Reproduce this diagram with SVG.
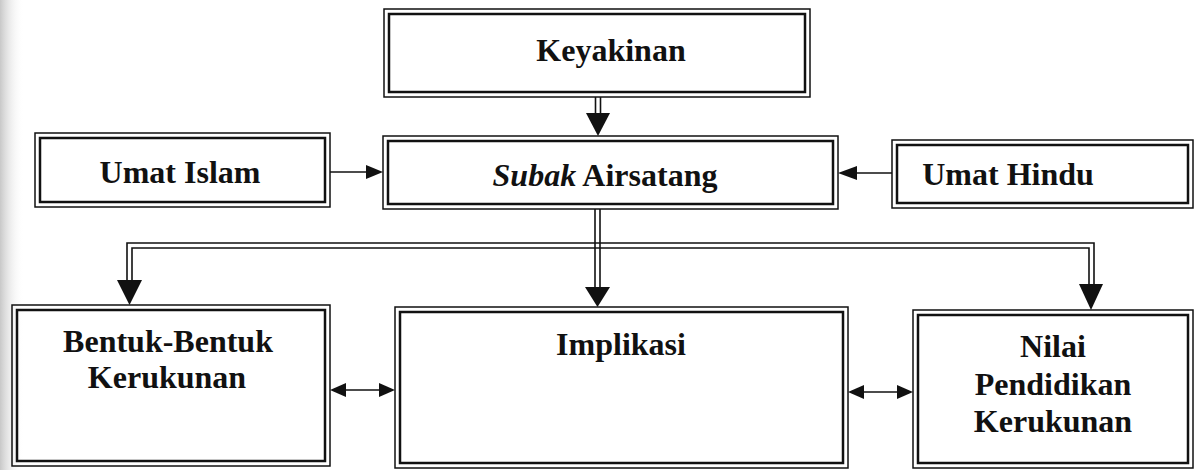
<svg xmlns="http://www.w3.org/2000/svg" width="1202" height="470" viewBox="0 0 1202 470">
<style>
.o{fill:none;stroke:#111;stroke-width:1.5}
.i{fill:none;stroke:#111;stroke-width:2.5}
.t{font-family:"Liberation Serif","Times New Roman",serif;font-weight:bold;font-size:32px;fill:#111;text-anchor:middle}
.l{fill:none;stroke:#111;stroke-width:1.6}
.h{fill:#111;stroke:none}
</style>
<defs>
<linearGradient id="shade" x1="0" y1="0" x2="1" y2="0">
<stop offset="0" stop-color="#c8c8c8"/>
<stop offset="1" stop-color="#ffffff" stop-opacity="0"/>
</linearGradient>
</defs>
<rect width="1202" height="470" fill="#fff"/>
<rect x="0" y="0" width="24" height="470" fill="url(#shade)"/>

<g id="keyakinan">
<rect class="o" x="384" y="9" width="426" height="88"/>
<rect class="i" x="389" y="14" width="416" height="78"/>
<text class="t" x="611" y="61">Keyakinan</text>
</g>

<g id="subak">
<rect class="o" x="383" y="136" width="455" height="73"/>
<rect class="i" x="388" y="141" width="445" height="63"/>
<text class="t" x="605" y="186"><tspan font-style="italic">Subak</tspan> Airsatang</text>
</g>

<g id="umat-islam">
<rect class="o" x="35" y="133" width="295" height="74"/>
<rect class="i" x="40" y="138" width="285" height="64"/>
<text class="t" x="180" y="183">Umat Islam</text>
</g>

<g id="umat-hindu">
<rect class="o" x="892" y="140" width="301" height="68"/>
<rect class="i" x="897" y="145" width="291" height="58"/>
<text class="t" x="1008" y="185">Umat Hindu</text>
</g>

<g id="bentuk">
<rect class="o" x="12" y="305" width="318" height="161"/>
<rect class="i" x="17" y="310" width="308" height="151"/>
<text class="t" x="168" y="352">Bentuk-Bentuk</text>
<text class="t" x="167" y="388">Kerukunan</text>
</g>

<g id="implikasi">
<rect class="o" x="395" y="307" width="453" height="161"/>
<rect class="i" x="400" y="312" width="443" height="151"/>
<text class="t" x="621" y="355">Implikasi</text>
</g>

<g id="nilai">
<rect class="o" x="913" y="310" width="280" height="158"/>
<rect class="i" x="918" y="315" width="270" height="148"/>
<text class="t" x="1053" y="357">Nilai</text>
<text class="t" x="1053" y="395">Pendidikan</text>
<text class="t" x="1053" y="432">Kerukunan</text>
</g>

<g id="connectors">
<!-- Keyakinan to Subak -->
<line class="l" x1="595.5" y1="97" x2="595.5" y2="115"/>
<line class="l" x1="600.5" y1="97" x2="600.5" y2="115"/>
<polygon class="h" points="586,113 610,113 598,136"/>
<!-- Umat Islam to Subak -->
<line class="l" x1="330" y1="172" x2="368" y2="172"/>
<polygon class="h" points="366,165 366,179 383,172"/>
<!-- Umat Hindu to Subak -->
<line class="l" x1="892" y1="173" x2="855" y2="173"/>
<polygon class="h" points="857,166 857,180 838,173"/>
<!-- Subak branching -->
<line class="l" x1="595" y1="209" x2="595" y2="289"/>
<line class="l" x1="600" y1="209" x2="600" y2="289"/>
<path class="l" d="M127 282 V243 H1094 V286"/>
<path class="l" d="M132 282 V248 H1089 V286"/>
<polygon class="h" points="117,280 142,280 129.5,305"/>
<polygon class="h" points="585,287 610,287 597.5,307"/>
<polygon class="h" points="1079,284 1103,284 1091,310"/>
<!-- Bentuk <-> Implikasi -->
<line class="l" x1="344" y1="390" x2="381" y2="390"/>
<polygon class="h" points="330,390 346,383 346,397"/>
<polygon class="h" points="395,390 379,383 379,397"/>
<!-- Implikasi <-> Nilai -->
<line class="l" x1="862" y1="392" x2="899" y2="392"/>
<polygon class="h" points="848,392 864,385 864,399"/>
<polygon class="h" points="913,392 897,385 897,399"/>
</g>
</svg>
